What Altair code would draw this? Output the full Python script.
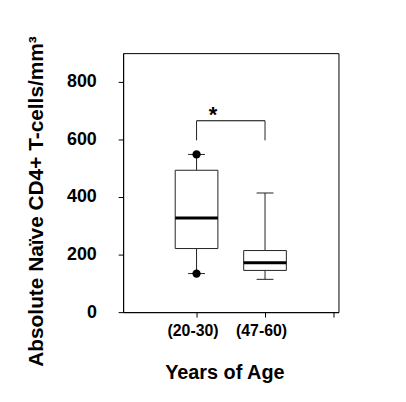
import altair as alt
import pandas as pd

# ---- data ----
categories = ["(20-30)", "(47-60)"]
positions = [1, 2]
q1 = [221, 145]
median = [327, 172]
q3 = [493, 214]
whisk_low = [134, 114]
whisk_high = [548, 414]
has_dots = [True, False]

y_ticks = [0, 200, 400, 600, 800]
y_max = 900

bracket_top = 665
bracket_bottom = 597
star_label = "*"
star_pos = 1.24
star_value = 662

df = pd.DataFrame({
    "cat": categories, "pos": positions, "q1": q1, "median": median,
    "q3": q3, "lo": whisk_low, "hi": whisk_high, "dots": has_dots,
})
dots = pd.DataFrame({
    "pos": [p for p, d in zip(positions, has_dots) if d] * 2,
    "v": [l for l, d in zip(whisk_low, has_dots) if d] + [h for h, d in zip(whisk_high, has_dots) if d],
})
bracket_h = pd.DataFrame({"x": [positions[0]], "x2": [positions[1]], "y": [bracket_top]})
bracket_v = pd.DataFrame({"x": positions, "y": [bracket_bottom] * 2, "y2": [bracket_top] * 2})
star = pd.DataFrame({"x": [star_pos], "y": [star_value], "t": [star_label]})

label_expr = " : ".join(
    [f"datum.value == {p} ? '{c}'" for p, c in zip(positions, categories)]
) + " : ''"

xs = alt.Scale(domain=[0, 3], nice=False, zero=False)
ys = alt.Scale(domain=[0, y_max], nice=False)

FONT = "Liberation Sans"

common = dict(
    labelFont=FONT, titleFont=FONT, labelFontWeight="bold", titleFontWeight="bold",
    labelColor="black", titleColor="black", domainColor="black", tickColor="black",
    domainWidth=1, tickWidth=1, grid=False, tickSize=5,
)

x_axis = alt.Axis(
    values=[1, 2, 3], labelExpr=label_expr, title="Years of Age",
    labelPadding=6, labelFontSize=16, labelOffset=-4,
    titleFontSize=20, titleX=102, titleY=67, titleBaseline="alphabetic",
    titleAlign="center", **common,
)
y_axis = alt.Axis(
    values=y_ticks, title="Absolute Naïve CD4+ T-cells/mm³",
    labelPadding=22, labelFontSize=18,
    titleFontSize=21, titleAngle=-90, titleX=-81, titleY=149,
    titleBaseline="alphabetic", titleAlign="center", **common,
)

base = alt.Chart(df)
LINE = "#222"

whiskers_hi = base.mark_rule(color=LINE, strokeWidth=1).encode(
    x=alt.X("pos:Q", scale=xs, axis=x_axis), y=alt.Y("q3:Q", scale=ys, axis=y_axis), y2="hi:Q"
)
whiskers_lo = base.mark_rule(color=LINE, strokeWidth=1).encode(
    x=alt.X("pos:Q", scale=xs), y=alt.Y("lo:Q", scale=ys), y2="q1:Q"
)
caps_hi = base.mark_tick(color=LINE, size=17, thickness=1, orient="horizontal", opacity=1).encode(
    x=alt.X("pos:Q", scale=xs), y=alt.Y("hi:Q", scale=ys)
)
caps_lo = base.mark_tick(color=LINE, size=17, thickness=1, orient="horizontal", opacity=1).encode(
    x=alt.X("pos:Q", scale=xs), y=alt.Y("lo:Q", scale=ys)
)
boxes = base.mark_bar(size=43, fill="white", stroke=LINE, strokeWidth=1, opacity=1).encode(
    x=alt.X("pos:Q", scale=xs), y=alt.Y("q1:Q", scale=ys), y2="q3:Q"
)
medians = base.mark_tick(color="black", size=43, thickness=3, orient="horizontal", opacity=1).encode(
    x=alt.X("pos:Q", scale=xs), y=alt.Y("median:Q", scale=ys)
)
dot_layer = alt.Chart(dots).mark_circle(color="black", size=70, opacity=1).encode(
    x=alt.X("pos:Q", scale=xs), y=alt.Y("v:Q", scale=ys)
)
bh = alt.Chart(bracket_h).mark_rule(color="black", strokeWidth=1).encode(
    x=alt.X("x:Q", scale=xs), x2="x2:Q", y=alt.Y("y:Q", scale=ys)
)
bv = alt.Chart(bracket_v).mark_rule(color=LINE, strokeWidth=1).encode(
    x=alt.X("x:Q", scale=xs), y=alt.Y("y:Q", scale=ys), y2="y2:Q"
)
star_layer = alt.Chart(star).mark_text(
    font=FONT, fontWeight="bold", fontSize=22, baseline="alphabetic", align="center", color="black"
).encode(x=alt.X("x:Q", scale=xs), y=alt.Y("y:Q", scale=ys), text="t:N")

chart = alt.layer(
    whiskers_hi, whiskers_lo, caps_hi, caps_lo, boxes, medians, dot_layer, bh, bv, star_layer
).properties(
    width=217, height=261,
    autosize=alt.AutoSizeParams(type="none"),
    padding={"left": 116, "top": 44, "right": 60, "bottom": 80},
    background="white",
).configure_view(
    stroke="black", strokeWidth=1
)

chart.save("out.html", embed_options={"renderer": "svg", "actions": False})
